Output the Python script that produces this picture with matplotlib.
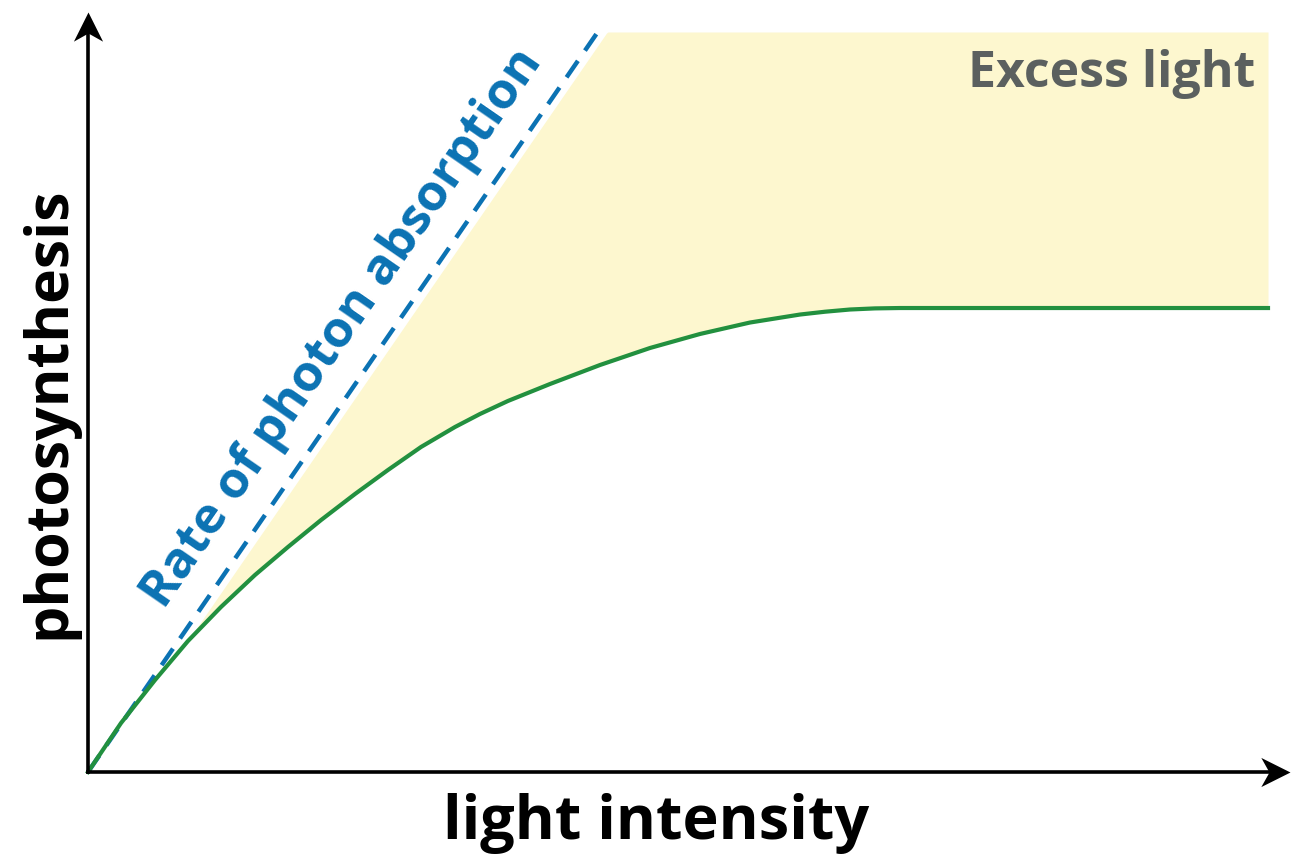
import numpy as np
import matplotlib
matplotlib.use("Agg")
import matplotlib.pyplot as plt
from matplotlib.path import Path

# light intensity (0-100) vs photosynthesis rate (0-100)
light = [0, 2.80, 5.68, 8.47, 11.27, 14.15, 16.95, 19.75, 22.63, 25.42, 28.22,
         31.10, 33.22, 35.59, 39.15, 43.39, 47.63, 51.86, 56.10, 60.34, 62.46,
         64.58, 66.69, 68.81, 100]
photosynthesis = [0, 6.62, 12.43, 17.70, 22.30, 26.62, 30.41, 34.05, 37.57,
                  40.81, 43.92, 46.62, 48.38, 50.14, 52.43, 55.00, 57.30, 59.19,
                  60.74, 61.82, 62.20, 62.50, 62.65, 62.70, 62.70]

# rate of photon absorption: straight line through the origin
absorption_x = [0, 43.2]
absorption_y = [0, 100]
fill_offset = 0.8   # yellow band starts a little right of the dashed line
top = 100

green = '#22903f'
blue = '#0b72b3'
yellow = '#fdf7cf'

fig = plt.figure(figsize=(12.95, 8.6), dpi=100)
ax = fig.add_axes([0, 0, 1, 1])
ax.set_xlim(-88 / 11.8, (1295 - 88) / 11.8)
ax.set_ylim(-88 / 7.4, 772 / 7.4)
ax.axis('off')

# excess light band between the absorption line and the curve
xs = np.linspace(0, 100, 800)
slope = absorption_y[1] / absorption_x[1]
upper = np.minimum(top, slope * (xs - fill_offset))
lower = np.interp(xs, light, photosynthesis)
ax.fill_between(xs, lower, upper, where=upper > lower, color=yellow, lw=0, zorder=1)

ax.plot(light, photosynthesis, color=green, lw=3.0, solid_joinstyle='round', zorder=3)
ax.plot(absorption_x, absorption_y, color=blue, lw=3.2, ls=(0, (4.5, 2.8)), zorder=2)

# axes with notched arrow heads
x_tip, y_tip = 101.9, 102.7
head_right = Path([(0, 0), (-1, -0.5), (-0.72, 0), (-1, 0.5), (0, 0)],
                  [Path.MOVETO] + [Path.LINETO] * 3 + [Path.CLOSEPOLY])
head_up = Path([(0, 0), (-0.5, -1), (0, -0.72), (0.5, -1), (0, 0)],
               [Path.MOVETO] + [Path.LINETO] * 3 + [Path.CLOSEPOLY])
ax.plot([0, x_tip - 1.5], [0, 0], color='black', lw=2.6, zorder=4)
ax.plot([0, 0], [0, y_tip - 2.5], color='black', lw=2.6, zorder=4)
ax.plot([x_tip], [0], marker=head_right, ms=42, color='black', mew=0, zorder=5)
ax.plot([0], [y_tip], marker=head_up, ms=42, color='black', mew=0, zorder=5)

font = ['Open Sans', 'DejaVu Sans']
ax.text(48.1, -7.0, 'light intensity', family=font, weight='bold', fontsize=44,
        ha='center', va='center', color='black')
ax.text(-3.3, 48.6, 'photosynthesis', family=font, weight='bold', fontsize=42.5,
        ha='center', va='center', rotation=90, color='black')
ax.text(98.9, 94.3, 'Excess light', family=font, weight='bold', fontsize=36,
        ha='right', va='center', color='#5b605f')
ax.text(21.6, 59.9, 'Rate of photon absorption', family=font, weight='bold',
        fontsize=36.5, ha='center', va='center', rotation=55.4,
        rotation_mode='anchor', color=blue)

fig.savefig('out.png', dpi=100)
